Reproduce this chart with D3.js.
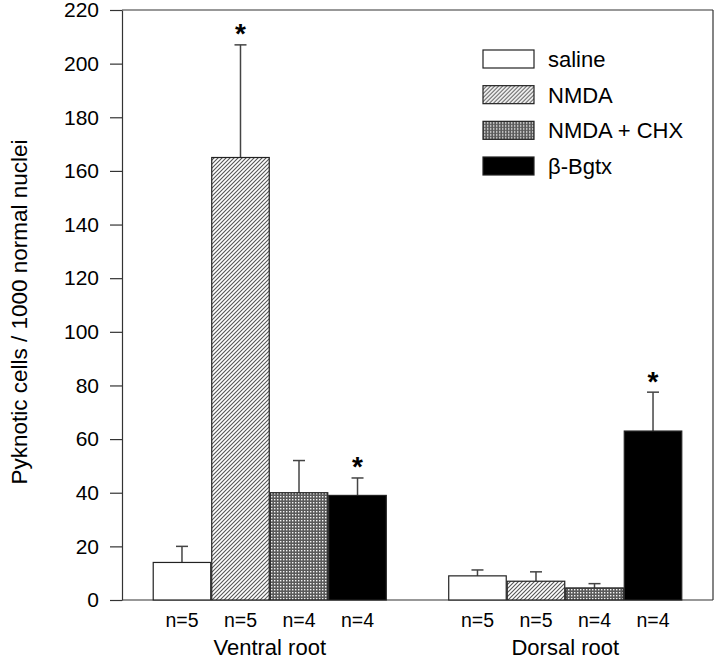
<!DOCTYPE html>
<html>
<head>
<meta charset="utf-8">
<script src="https://cdn.jsdelivr.net/npm/d3@7/dist/d3.min.js"></script>
<style>
  html, body { margin: 0; padding: 0; background: #fff; }
  svg { display: block; font-family: "Liberation Sans", Arial, Helvetica, sans-serif; }
</style>
</head>
<body>
<script>
// ---- data ----
const groups = ["Ventral root", "Dorsal root"];
const series = ["saline", "NMDA", "NMDA + CHX", "β-Bgtx"];
const ventralMeans = [14, 165, 40, 39];
const ventralErr = [6, 42, 12, 6.5];
const dorsalMeans = [9, 7, 4.5, 63];
const dorsalErr = [2.2, 3.5, 1.6, 14.5];
const ventralN = ["n=5", "n=5", "n=4", "n=4"];
const dorsalN = ["n=5", "n=5", "n=4", "n=4"];
const ventralSig = [false, true, false, true];
const dorsalSig = [false, false, false, true];
const yTicks = [0, 20, 40, 60, 80, 100, 120, 140, 160, 180, 200, 220];
const yTitle = "Pyknotic cells / 1000 normal nuclei";

const rows = [];
[[ventralMeans, ventralErr, ventralN, ventralSig], [dorsalMeans, dorsalErr, dorsalN, dorsalSig]]
  .forEach(([m, e, n, s], gi) => {
    series.forEach((ser, si) => rows.push({ group: groups[gi], series: ser, si, value: m[si], err: e[si], n: n[si], sig: s[si] }));
  });

const W = 720, H = 662;
const mLeft = 122, mRight = 713, mTop = 10, mBottom = 600;

const svg = d3.select("body").append("svg").attr("width", W).attr("height", H);
const defs = svg.append("defs");

// hatch pattern
const hatch = defs.append("pattern").attr("id", "hatch").attr("patternUnits", "userSpaceOnUse")
  .attr("width", 4).attr("height", 4);
hatch.append("rect").attr("width", 4).attr("height", 4).attr("fill", "#fff");
hatch.append("path").attr("d", "M-1,1 l2,-2 M0,4 l4,-4 M3,5 l2,-2")
  .attr("stroke", "#555").attr("stroke-width", 1.1);

// crosshatch pattern
const cross = defs.append("pattern").attr("id", "cross").attr("patternUnits", "userSpaceOnUse")
  .attr("width", 3).attr("height", 3);
cross.append("rect").attr("width", 3).attr("height", 3).attr("fill", "#5a5a5a");
cross.append("rect").attr("x", 1).attr("y", 1).attr("width", 1.4).attr("height", 1.4).attr("fill", "#f4f4f4");

const fills = ["#fff", "url(#hatch)", "url(#cross)", "#000"];

const y = d3.scaleLinear().domain([0, 220]).range([mBottom, mTop]);
const xg = d3.scaleBand().domain(groups).range([mLeft, mRight]).padding(0);
const xs = d3.scaleBand().domain(series).range([0, xg.bandwidth()]).paddingInner(0).paddingOuter(0.525);

// frame: top, right and bottom borders
svg.append("line").attr("x1", mLeft).attr("x2", mRight).attr("y1", mTop).attr("y2", mTop)
  .attr("stroke", "#333").attr("stroke-width", 1.2);
svg.append("line").attr("x1", mRight).attr("x2", mRight).attr("y1", mTop).attr("y2", mBottom)
  .attr("stroke", "#333").attr("stroke-width", 1.2);
svg.append("line").attr("x1", mLeft).attr("x2", mRight).attr("y1", mBottom).attr("y2", mBottom)
  .attr("stroke", "#333").attr("stroke-width", 1.2);

// y axis
const yAxis = svg.append("g").attr("transform", `translate(${mLeft},0)`)
  .call(d3.axisLeft(y).tickValues(yTicks).tickSize(12).tickSizeOuter(0).tickPadding(11));
yAxis.selectAll("path, line").attr("stroke", "#333").attr("stroke-width", 1.2);
yAxis.selectAll("text").attr("font-size", 21).attr("fill", "#000")
  .attr("font-family", "'Liberation Sans', Arial, sans-serif");

// bars
const bx = d => xg(d.group) + xs(d.series);
const bars = svg.append("g");
bars.selectAll("line.err").data(rows).join("line").attr("class", "err")
  .attr("x1", d => bx(d) + xs.bandwidth() / 2).attr("x2", d => bx(d) + xs.bandwidth() / 2)
  .attr("y1", d => y(d.value)).attr("y2", d => y(d.value + d.err))
  .attr("stroke", "#444").attr("stroke-width", 1.5);
bars.selectAll("line.cap").data(rows).join("line").attr("class", "cap")
  .attr("x1", d => bx(d) + xs.bandwidth() / 2 - 6).attr("x2", d => bx(d) + xs.bandwidth() / 2 + 6)
  .attr("y1", d => y(d.value + d.err)).attr("y2", d => y(d.value + d.err))
  .attr("stroke", "#444").attr("stroke-width", 1.5);
bars.selectAll("rect").data(rows).join("rect")
  .attr("x", d => bx(d) + 0.5).attr("width", xs.bandwidth() - 1)
  .attr("y", d => y(d.value)).attr("height", d => y(0) - y(d.value))
  .attr("fill", d => fills[d.si]).attr("stroke", "#222").attr("stroke-width", 1.2);

// significance stars
svg.append("g").selectAll("text").data(rows.filter(d => d.sig)).join("text")
  .attr("x", d => bx(d) + xs.bandwidth() / 2)
  .attr("y", d => y(d.value + d.err) - 17)
  .attr("text-anchor", "middle")
  .attr("font-size", 28).attr("font-weight", "bold").attr("fill", "#000")
  .attr("dy", "0.55em")
  .text("*");

// n labels
svg.append("g").selectAll("text").data(rows).join("text")
  .attr("x", d => bx(d) + xs.bandwidth() / 2).attr("y", 627)
  .attr("text-anchor", "middle").attr("font-size", 19.5).attr("fill", "#000")
  .text(d => d.n);

// group labels
svg.append("g").selectAll("text").data(groups).join("text")
  .attr("x", d => xg(d) + xg.bandwidth() / 2).attr("y", 655)
  .attr("text-anchor", "middle").attr("font-size", 22).attr("fill", "#000")
  .text(d => d);

// y title
svg.append("text").attr("transform", `translate(27,${(mTop + mBottom) / 2 + 7}) rotate(-90)`)
  .attr("text-anchor", "middle").attr("font-size", 22.5).attr("fill", "#000")
  .text(yTitle);

// legend
const legY = d3.scalePoint().domain(series).range([50, 157]);
const leg = svg.append("g").selectAll("g").data(series).join("g")
  .attr("transform", d => `translate(483,${legY(d)})`);
leg.append("rect").attr("width", 51).attr("height", 18)
  .attr("fill", (d, i) => fills[i]).attr("stroke", "#222").attr("stroke-width", 1.2);
leg.append("text").attr("x", 65).attr("y", 9).attr("dy", "0.36em")
  .attr("font-size", 22).attr("fill", "#000").text(d => d);
</script>
</body>
</html>
